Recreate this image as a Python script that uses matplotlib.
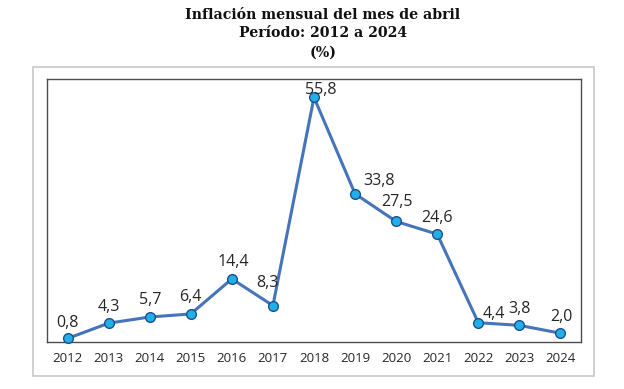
import matplotlib
matplotlib.use("Agg")
import matplotlib.pyplot as plt
from matplotlib.patches import Rectangle

years = ["2012", "2013", "2014", "2015", "2016", "2017", "2018",
         "2019", "2020", "2021", "2022", "2023", "2024"]
values = [0.8, 4.3, 5.7, 6.4, 14.4, 8.3, 55.8, 33.8, 27.5, 24.6, 4.4, 3.8, 2.0]
labels = [f"{v:.1f}".replace(".", ",") for v in values]
title_lines = ["Inflación mensual del mes de abril", "Período: 2012 a 2024", "(%)"]

# label centre offsets in points (style)
offsets = [(0, 11.5), (0, 11.5), (0, 12), (0, 12), (0.7, 12), (-4.3, 16), (5, 5),
           (17, 9.4), (0.7, 13.7), (0, 11.5), (11, 6.5), (0, 11.5), (0.7, 12)]

W, H = 624, 389
fig = plt.figure(figsize=(W / 100, H / 100), dpi=100)
fig.patch.set_facecolor("white")

# outer light frame
fig.add_artist(Rectangle((33 / W, 1 - 376 / H), (594 - 33) / W, (376 - 67) / H,
                         transform=fig.transFigure, fill=False,
                         edgecolor="#c8c8c8", linewidth=1.2))

ax = fig.add_axes([47 / W, 1 - 342 / H, (581 - 47) / W, (342 - 79) / H])
x = list(range(len(years)))
ax.plot(x, values, color="#4674bb", linewidth=2.2, marker="o", markersize=7,
        markerfacecolor="#1fb0e8", markeredgecolor="#1f4e8c", markeredgewidth=1,
        zorder=3, clip_on=False)
for xi, v, lab, off in zip(x, values, labels, offsets):
    ax.annotate(lab, (xi, v), xytext=off, textcoords="offset points",
                ha="center", va="center", fontsize=11.5, family="Open Sans",
                color="#262626", zorder=4)
ax.set_xlim(-0.5, len(years) - 0.5)
ax.set_ylim(0, 60)
ax.set_xticks(x)
ax.set_xticklabels(years, fontsize=9.5, family="Open Sans", color="#262626")
ax.tick_params(axis="x", length=0, pad=7)
ax.set_yticks([])
for s in ax.spines.values():
    s.set_color("#4d4d4d")
    s.set_linewidth(1.0)

ys = [15, 33, 53]
for t, y in zip(title_lines, ys):
    fig.text(323 / W, 1 - y / H, t, ha="center", va="center",
             fontsize=10.2, fontweight="bold", family="DejaVu Serif", color="#111111")

fig.savefig("out.png", dpi=100)
